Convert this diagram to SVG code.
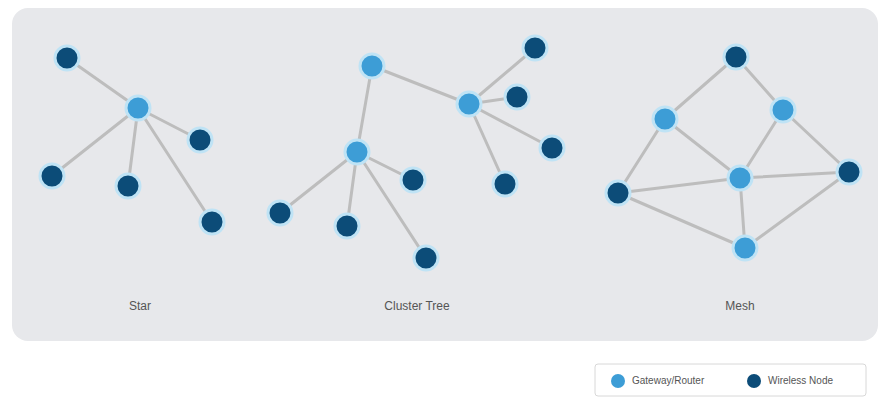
<svg xmlns="http://www.w3.org/2000/svg" width="883" height="398" viewBox="0 0 883 398">
<defs>
<style>
.edge{stroke:#bdbdbd;stroke-width:3;stroke-linecap:round;fill:none}
.gw{fill:#3d9dd6;stroke:#bfe3f5;stroke-width:3}
.wn{fill:#0c4c78;stroke:#bfe3f5;stroke-width:3}
.lbl{font-family:"Liberation Sans",Arial,sans-serif;font-size:12px;fill:#555;text-anchor:middle}
.leg{font-family:"Liberation Sans",Arial,sans-serif;font-size:10px;fill:#555}
</style>
</defs>
<rect width="883" height="398" fill="#ffffff"/>
<rect x="12" y="8" width="866" height="333" rx="16" fill="#e7e8eb"/>
<g id="connectors">
<line class="edge" x1="138" y1="108" x2="67" y2="58"/>
<line class="edge" x1="138" y1="108" x2="200" y2="140"/>
<line class="edge" x1="138" y1="108" x2="52" y2="176"/>
<line class="edge" x1="138" y1="108" x2="128" y2="186"/>
<line class="edge" x1="138" y1="108" x2="212" y2="222"/>
<line class="edge" x1="372" y1="66" x2="469" y2="104"/>
<line class="edge" x1="372" y1="66" x2="357" y2="152"/>
<line class="edge" x1="469" y1="104" x2="535" y2="48"/>
<line class="edge" x1="469" y1="104" x2="517" y2="97"/>
<line class="edge" x1="469" y1="104" x2="552" y2="148"/>
<line class="edge" x1="469" y1="104" x2="505" y2="184"/>
<line class="edge" x1="357" y1="152" x2="413" y2="180"/>
<line class="edge" x1="357" y1="152" x2="280" y2="213"/>
<line class="edge" x1="357" y1="152" x2="347" y2="226"/>
<line class="edge" x1="357" y1="152" x2="426" y2="258"/>
<line class="edge" x1="736" y1="57" x2="665" y2="119"/>
<line class="edge" x1="736" y1="57" x2="783" y2="110"/>
<line class="edge" x1="665" y1="119" x2="618" y2="193"/>
<line class="edge" x1="665" y1="119" x2="740" y2="178"/>
<line class="edge" x1="783" y1="110" x2="740" y2="178"/>
<line class="edge" x1="783" y1="110" x2="849" y2="172"/>
<line class="edge" x1="618" y1="193" x2="740" y2="178"/>
<line class="edge" x1="740" y1="178" x2="849" y2="172"/>
<line class="edge" x1="618" y1="193" x2="745" y2="248"/>
<line class="edge" x1="740" y1="178" x2="745" y2="248"/>
<line class="edge" x1="849" y1="172" x2="745" y2="248"/>
</g>
<g id="star-hub"><circle class="gw" cx="138" cy="108" r="12"/></g>
<g id="star-n1"><circle class="wn" cx="67" cy="58" r="12"/></g>
<g id="star-n2"><circle class="wn" cx="200" cy="140" r="12"/></g>
<g id="star-n3"><circle class="wn" cx="52" cy="176" r="12"/></g>
<g id="star-n4"><circle class="wn" cx="128" cy="186" r="12"/></g>
<g id="star-n5"><circle class="wn" cx="212" cy="222" r="12"/></g>
<g id="ct-g1"><circle class="gw" cx="372" cy="66" r="12"/></g>
<g id="ct-g2"><circle class="gw" cx="469" cy="104" r="12"/></g>
<g id="ct-g3"><circle class="gw" cx="357" cy="152" r="12"/></g>
<g id="ct-n1"><circle class="wn" cx="535" cy="48" r="12"/></g>
<g id="ct-n2"><circle class="wn" cx="517" cy="97" r="12"/></g>
<g id="ct-n3"><circle class="wn" cx="552" cy="148" r="12"/></g>
<g id="ct-n4"><circle class="wn" cx="505" cy="184" r="12"/></g>
<g id="ct-n5"><circle class="wn" cx="413" cy="180" r="12"/></g>
<g id="ct-n6"><circle class="wn" cx="280" cy="213" r="12"/></g>
<g id="ct-n7"><circle class="wn" cx="347" cy="226" r="12"/></g>
<g id="ct-n8"><circle class="wn" cx="426" cy="258" r="12"/></g>
<g id="mesh-top"><circle class="wn" cx="736" cy="57" r="12"/></g>
<g id="mesh-g1"><circle class="gw" cx="665" cy="119" r="12"/></g>
<g id="mesh-g2"><circle class="gw" cx="783" cy="110" r="12"/></g>
<g id="mesh-g3"><circle class="gw" cx="740" cy="178" r="12"/></g>
<g id="mesh-right"><circle class="wn" cx="849" cy="172" r="12"/></g>
<g id="mesh-left"><circle class="wn" cx="618" cy="193" r="12"/></g>
<g id="mesh-g4"><circle class="gw" cx="745" cy="248" r="12"/></g>
<g id="labels">
<text class="lbl" x="140" y="310">Star</text>
<text class="lbl" x="417" y="310">Cluster Tree</text>
<text class="lbl" x="740" y="310">Mesh</text>
</g>
<g id="legend">
<rect x="595" y="364" width="271" height="32" rx="3" fill="#fff" stroke="#d8d8d8"/>
<circle cx="618" cy="381" r="7" fill="#3d9dd6"/>
<text class="leg" x="632" y="384">Gateway/Router</text>
<circle cx="754" cy="381" r="7" fill="#0c4c78"/>
<text class="leg" x="768" y="384">Wireless Node</text>
</g>
</svg>
